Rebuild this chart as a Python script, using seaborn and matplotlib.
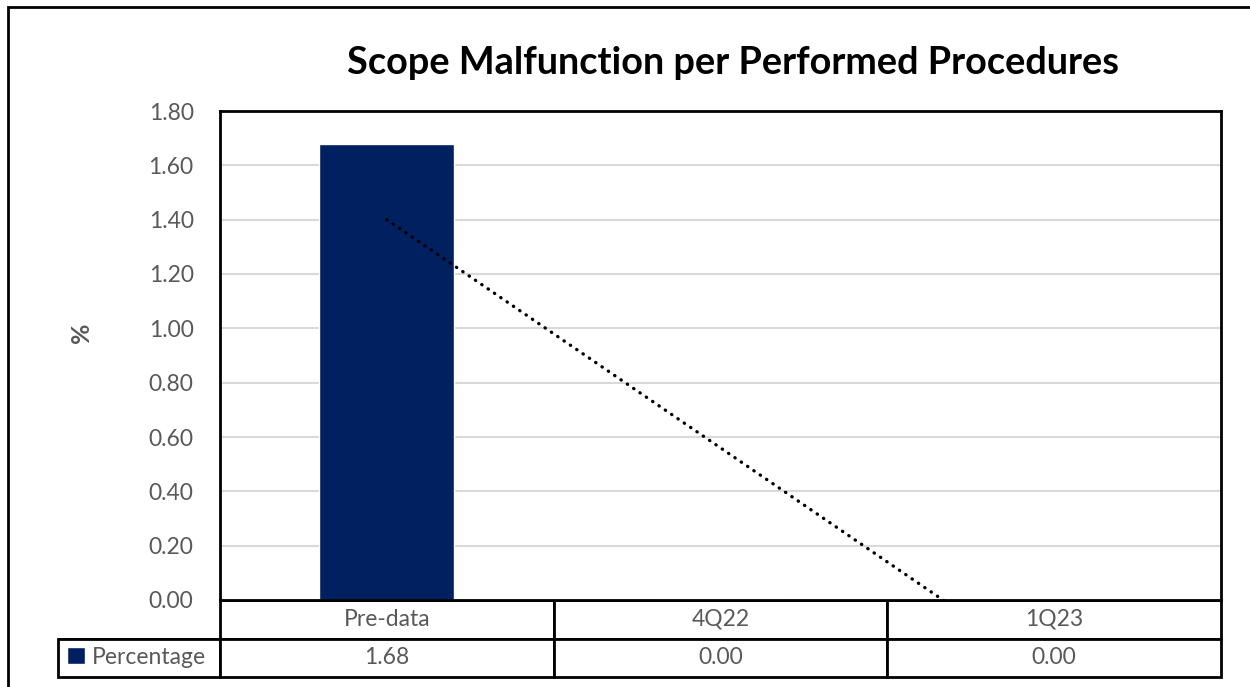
import numpy as np
import pandas as pd
import matplotlib.pyplot as plt
from matplotlib.patches import Rectangle
import seaborn as sns

# données
categories = ['Pre-data', '4Q22', '1Q23']
percentage = [1.68, 0.00, 0.00]
y_ticks = [0.0, 0.2, 0.4, 0.6, 0.8, 1.0, 1.2, 1.4, 1.6, 1.8]

df = pd.DataFrame({'Periode': categories, 'Percentage': percentage})

sns.set_style('white')
plt.rcParams['font.family'] = ['Lato', 'DejaVu Sans']

gris = '#595959'
bleu = '#002060'
fs = 16.5

fig = plt.figure(figsize=(12.5, 6.87), dpi=100)
W, H = 1250, 687
ax = fig.add_axes([220 / W, 1 - 600 / H, (1221 - 220) / W, (600 - 111) / H])

sns.barplot(data=df, x='Periode', y='Percentage', color=bleu, width=0.405,
            saturation=1, ax=ax, label='Percentage')

# courbe de tendance linéaire (comme Excel)
sns.regplot(x=np.arange(len(categories)), y=df['Percentage'], scatter=False, ci=None,
            truncate=True, ax=ax,
            line_kws=dict(color='black', lw=2.4, linestyle=(0, (0.1, 2.2)),
                          dash_capstyle='round'))

ax.set_xlim(-0.5, len(categories) - 0.5)
ax.set_ylim(0, 1.8)
ax.set_yticks(y_ticks)
ax.set_yticklabels([f'{v:.2f}' for v in y_ticks], color=gris, fontsize=fs)
ax.tick_params(axis='y', length=0, pad=19)
ax.set_xticks([])
ax.set_xlabel('')
ax.set_ylabel('%', color=gris, fontsize=18, fontweight='bold')
ax.yaxis.set_label_coords((93 - 220) / 1001, (600 - 333) / 489)
ax.yaxis.grid(True, color='#D9D9D9', lw=1.5)
ax.set_axisbelow(True)
for s in ax.spines.values():
    s.set_color('black')
    s.set_linewidth(2)

fig.text(733 / W, 1 - 63 / H, 'Scope Malfunction per Performed Procedures',
         ha='center', va='center', fontsize=27.3, fontweight='bold', color='black')

# tableau de données sous le graphique
ax_w = 1221 - 220
ax_h = 600 - 111
lab_w = 162 / ax_w
tab = ax.table(cellText=[[''] + categories, [''] + [f'{v:.2f}' for v in percentage]],
               colWidths=[lab_w] + [1 / 3] * 3,
               cellLoc='center',
               bbox=[-lab_w, -77 / ax_h, 1 + lab_w, 77 / ax_h])
tab.auto_set_font_size(False)
for (r, c), cell in tab.get_celld().items():
    cell.set_edgecolor('black')
    cell.set_linewidth(2)
    cell.get_text().set_color(gris)
    cell.get_text().set_fontsize(fs)
tab[0, 0].visible_edges = 'B'

ax.legend(loc='center left', bbox_to_anchor=(-153 / ax_w, -57 / ax_h), frameon=False,
          handlelength=0.8, handleheight=0.8, handletextpad=0.3, borderaxespad=0,
          borderpad=0, fontsize=fs, labelcolor=gris)

# cadre extérieur
fig.add_artist(Rectangle((8 / W, -0.1), 1.2, 1.1 - 7 / H, transform=fig.transFigure,
                         fill=False, edgecolor='black', lw=2))

fig.savefig('out.png', dpi=100)
